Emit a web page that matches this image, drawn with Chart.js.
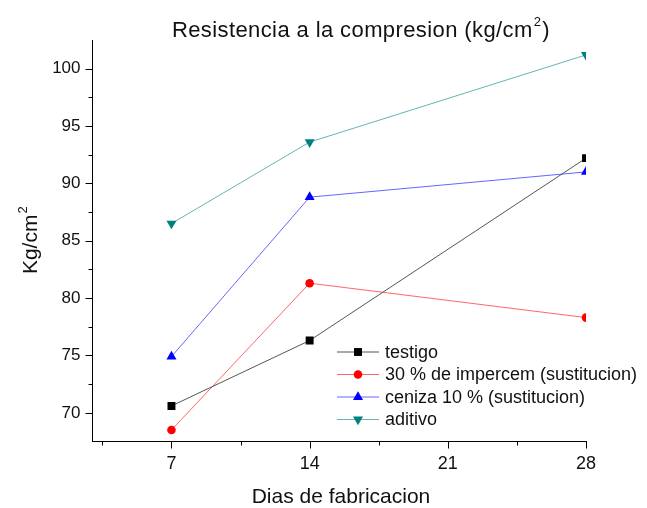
<!DOCTYPE html>
<html>
<head>
<meta charset="utf-8">
<script src="https://cdn.jsdelivr.net/npm/chart.js@4.4.1/dist/chart.umd.min.js"></script>
<style>
  html, body { margin: 0; padding: 0; background: #fff; }
</style>
</head>
<body>
<canvas id="chart" width="647" height="508"></canvas>
<script>
// values
const dias = [7, 14, 28];
const testigo = [70.6, 76.3, 92.2];
const impercem = [68.5, 81.3, 78.3];
const ceniza = [74.9, 88.8, 91.0];
const aditivo = [86.5, 93.6, 101.2];

const seriesNames = ["testigo", "30 % de impercem (sustitucion)", "ceniza 10 % (sustitucion)", "aditivo"];
const seriesValues = [testigo, impercem, ceniza, aditivo];
const seriesColors = ["#000000", "#ff0000", "#0000ff", "#008080"];
const lineColors = ["#555555", "#ff6666", "#6666ff", "#66b3b3"];
const pointStyles = ["rect", "circle", "triangle", "triangle"];
const pointRadius = [5.6, 4.3, 5.8, 5.8];
const pointRotation = [0, 0, 0, 180];

const xTicks = [3.5, 7, 10.5, 14, 17.5, 21, 24.5, 28];
const xLabels = [7, 14, 21, 28];
const yTicks = [70, 72.5, 75, 77.5, 80, 82.5, 85, 87.5, 90, 92.5, 95, 97.5, 100];
const yLabels = [70, 75, 80, 85, 90, 95, 100];

const FONT = "'Liberation Sans', Arial, sans-serif";

const datasets = seriesNames.map((name, i) => ({
    label: name,
    data: seriesValues[i].map((v, j) => ({ x: dias[j], y: v })),
    borderColor: lineColors[i],
    backgroundColor: seriesColors[i],
    pointBorderColor: seriesColors[i],
    pointBackgroundColor: seriesColors[i],
    pointStyle: pointStyles[i],
    pointRadius: pointRadius[i],
    pointRotation: pointRotation[i],
    pointBorderWidth: 0,
    borderWidth: 1,
    tension: 0,
    clip: 0
}));

// text with a small raised "2"
function drawSup(ctx, before, sup, after, x, y, size, align) {
    const big = size + "px " + FONT;
    const small = Math.round(size * 0.6) + "px " + FONT;
    ctx.font = big;
    const w1 = ctx.measureText(before).width;
    ctx.font = small;
    const w2 = ctx.measureText(sup).width;
    ctx.font = big;
    const w3 = ctx.measureText(after).width;
    const x0 = align === "center" ? x - (w1 + w2 + w3) / 2 : x;
    ctx.textAlign = "left";
    ctx.textBaseline = "alphabetic";
    ctx.fillText(before, x0, y);
    ctx.font = small;
    ctx.fillText(sup, x0 + w1 + 1, y - size * 0.48);
    ctx.font = big;
    ctx.fillText(after, x0 + w1 + w2 + 2, y);
}

const decor = {
    id: "decor",
    afterDraw(chart) {
        const ctx = chart.ctx;
        const area = chart.chartArea;
        const xs = chart.scales.x, ys = chart.scales.y;
        ctx.save();

        // tick marks, major longer than minor
        ctx.strokeStyle = "#000";
        ctx.lineWidth = 1;
        ctx.beginPath();
        xTicks.forEach(v => {
            const px = Math.round(xs.getPixelForValue(v)) + 0.5;
            const len = xLabels.includes(v) ? 7 : 4;
            ctx.moveTo(px, area.bottom);
            ctx.lineTo(px, area.bottom + len);
        });
        yTicks.forEach(v => {
            const py = Math.round(ys.getPixelForValue(v)) + 0.5;
            const len = yLabels.includes(v) ? 7 : 4;
            ctx.moveTo(area.left, py);
            ctx.lineTo(area.left - len, py);
        });
        ctx.stroke();

        ctx.fillStyle = "#111";

        // title
        ctx.letterSpacing = "0.4px";
        drawSup(ctx, "Resistencia a la compresion (kg/cm", "2", ")", 360, 37, 22, "center");
        ctx.letterSpacing = "0px";

        // x axis title
        ctx.font = "21px " + FONT;
        ctx.textAlign = "center";
        ctx.textBaseline = "middle";
        ctx.fillText("Dias de fabricacion", 341, 497);

        // y axis title
        ctx.save();
        ctx.translate(37, (area.top + area.bottom) / 2);
        ctx.rotate(-Math.PI / 2);
        drawSup(ctx, "Kg/cm", "2", "", 0, 0, 21, "center");
        ctx.restore();

        // legend inside the plot
        const lx = 337, ly = 352, row = 22.5;
        chart.data.datasets.forEach((ds, i) => {
            const y = ly + i * row;
            ctx.strokeStyle = ds.borderColor;
            ctx.lineWidth = 1;
            ctx.beginPath();
            ctx.moveTo(lx, y);
            ctx.lineTo(lx + 42, y);
            ctx.stroke();
            ctx.fillStyle = ds.pointBackgroundColor;
            ctx.strokeStyle = ds.pointBorderColor;
            Chart.helpers.drawPoint(ctx, {
                pointStyle: ds.pointStyle,
                radius: ds.pointRadius,
                rotation: ds.pointRotation,
                borderWidth: 0
            }, lx + 21, y);
            ctx.fillStyle = "#111";
            ctx.font = "18px " + FONT;
            ctx.textAlign = "left";
            ctx.textBaseline = "middle";
            ctx.fillText(ds.label, lx + 48, y + 1);
        });
        ctx.restore();
    }
};

new Chart(document.getElementById("chart"), {
    type: "line",
    data: { datasets },
    options: {
        responsive: false,
        animation: false,
        events: [],
        layout: { padding: { top: 40, right: 61, left: 0, bottom: 0 } },
        plugins: {
            legend: { display: false },
            title: { display: false },
            tooltip: { enabled: false }
        },
        scales: {
            x: {
                type: "linear",
                position: "bottom",
                min: 3,
                max: 28,
                grid: { drawOnChartArea: false, drawTicks: false },
                border: { color: "#000", width: 1 },
                ticks: {
                    color: "#111",
                    font: { family: FONT, size: 18 },
                    padding: 12,
                    maxRotation: 0,
                    autoSkip: false,
                    callback: v => xLabels.includes(v) ? String(v) : ""
                },
                afterBuildTicks: s => { s.ticks = xTicks.map(v => ({ value: v })); },
                afterFit: s => { s.height = 66.5; }
            },
            y: {
                type: "linear",
                min: 67.5,
                max: 102.5,
                grid: { drawOnChartArea: false, drawTicks: false },
                border: { color: "#000", width: 1 },
                ticks: {
                    color: "#111",
                    font: { family: FONT, size: 17 },
                    padding: 12,
                    autoSkip: false,
                    callback: v => yLabels.includes(v) ? String(v) : ""
                },
                afterBuildTicks: s => { s.ticks = yTicks.map(v => ({ value: v })); },
                afterFit: s => { s.width = 92.5; }
            }
        }
    },
    plugins: [decor]
});
</script>
</body>
</html>
